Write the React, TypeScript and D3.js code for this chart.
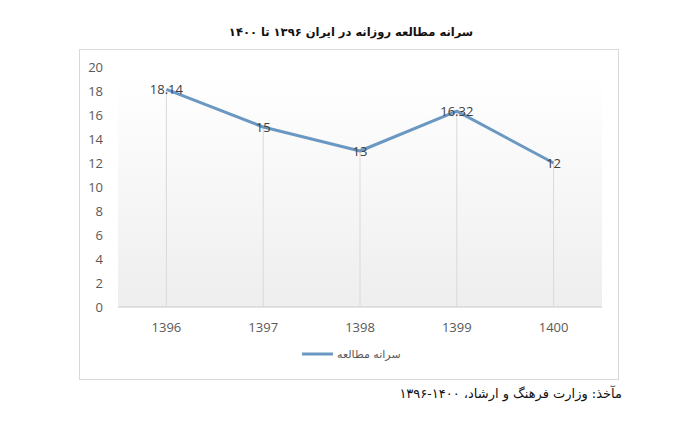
import React from "react";
import * as d3 from "d3";

const years = ["1396", "1397", "1398", "1399", "1400"];
const values = [18.14, 15, 13, 16.32, 12];
const valueLabels = ["18.14", "15", "13", "16.32", "12"];
const yTicks = [0, 2, 4, 6, 8, 10, 12, 14, 16, 18, 20];
const title = "سرانه مطالعه روزانه در ایران ۱۳۹۶ تا ۱۴۰۰";
const seriesName = "سرانه مطالعه";
const source = "مآخذ: وزارت فرهنگ و ارشاد، ۱۴۰۰-۱۳۹۶";

export default function App() {
  const W = 700, H = 422;
  const plot = { left: 118, right: 602, top: 67, bottom: 307 };
  const x = d3.scaleBand<string>().domain(years).range([plot.left, plot.right]);
  const y = d3.scaleLinear().domain([0, 20]).range([plot.bottom, plot.top]);
  const cx = (d: string) => (x(d) as number) + x.bandwidth() / 2;
  const line = d3.line<number>().x((_, i) => cx(years[i])).y((v) => y(v));
  const lineColor = "#6b98c2";
  const tickFont = "'Open Sans', 'Liberation Sans', sans-serif";
  return (
    <svg width={W} height={H} style={{ position: "absolute", left: 0, top: 0, background: "#fff" }}>
      <defs>
        <linearGradient id="bg" x1="0" y1="0" x2="0" y2="1">
          <stop offset="0" stopColor="#ffffff" />
          <stop offset="1" stopColor="#eeeeee" />
        </linearGradient>
      </defs>
      <rect x={0} y={0} width={W} height={H} fill="#fff" />
      <text x={351} y={36} textAnchor="middle" fontFamily="'DejaVu Sans', serif" fontWeight="bold" fontSize={11.5} fill="#111" direction="rtl">
        {title}
      </text>
      <rect x={79.5} y={49.5} width={539} height={330} fill="none" stroke="#d9d9d9" strokeWidth={1} />
      <rect x={plot.left} y={plot.top + 10} width={plot.right - plot.left} height={plot.bottom - plot.top - 10} fill="url(#bg)" />
      {years.map((d, i) => (
        <line key={d} x1={cx(d)} x2={cx(d)} y1={y(values[i])} y2={plot.bottom} stroke="#d9d9d9" strokeWidth={1} />
      ))}
      <line x1={plot.left} x2={plot.right} y1={plot.bottom} y2={plot.bottom} stroke="#d9d9d9" strokeWidth={1.5} />
      {yTicks.map((t) => (
        <text key={t} x={103} y={y(t)} dy="0.35em" textAnchor="end" fontFamily={tickFont} fontSize={13} fill="#595959">
          {t}
        </text>
      ))}
      {years.map((d) => (
        <text key={d} x={cx(d)} y={plot.bottom + 25} textAnchor="middle" fontFamily={tickFont} fontSize={13} fill="#595959">
          {d}
        </text>
      ))}
      <path d={line(values) || ""} fill="none" stroke={lineColor} strokeWidth={3} strokeLinejoin="round" />
      {years.map((d, i) => (
        <text key={d} x={cx(d)} y={y(values[i])} dy="0.35em" textAnchor="middle" fontFamily={tickFont} fontSize={13} fill="#404040">
          {valueLabels[i]}
        </text>
      ))}
      <line x1={302} x2={333} y1={354} y2={354} stroke={lineColor} strokeWidth={3} />
      <text x={337} y={358} textAnchor="end" fontFamily="'DejaVu Sans', sans-serif" fontSize={11} fill="#595959" direction="rtl">
        {seriesName}
      </text>
      <text x={622} y={398} textAnchor="start" fontFamily="'DejaVu Serif', 'DejaVu Sans', serif" fontSize={13} fill="#111" direction="rtl">
        {source}
      </text>
    </svg>
  );
}
